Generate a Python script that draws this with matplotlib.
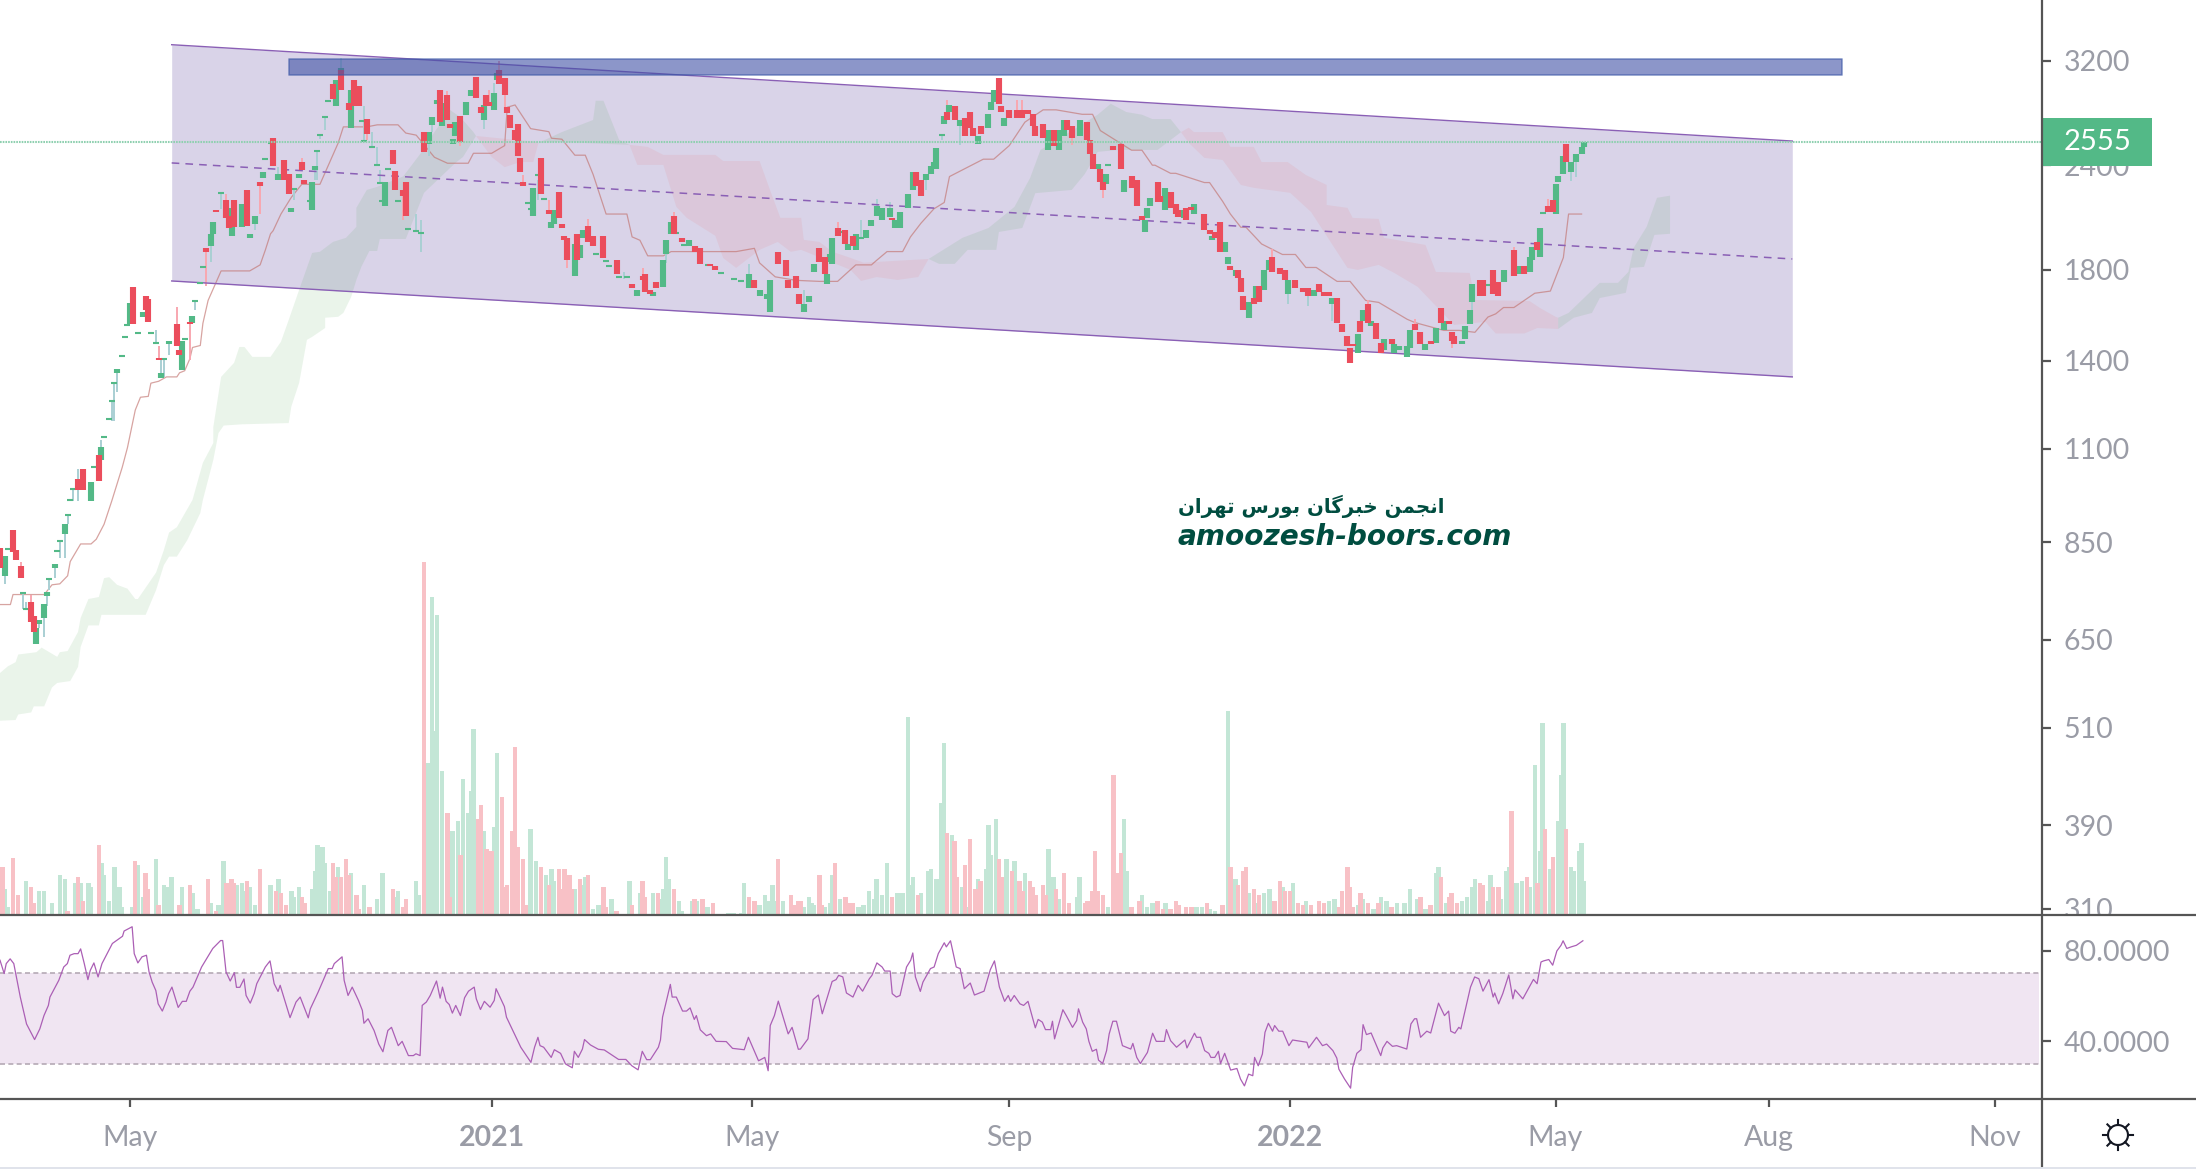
import numpy as np
import matplotlib
matplotlib.use("Agg")
import matplotlib.pyplot as plt
from matplotlib.patches import Rectangle, Circle
from matplotlib.ticker import FixedLocator, FixedFormatter, NullLocator

up_bars = [2,14,15,17,18,21,25,35,39,45,50,55,62,65,70,74,81,82,89,93,96,98,101,107,112,115,120,121,129,131,135,148,165,166,168,170,174,175,179,181,186,190,191,205,212,213,221,223,224,245,251,255,256,258,265,288,292,295,296,
           309,311,313,318,319,320,326,329,333,335,337,339,342,344,346,349,351,356,358,359,360,363,365,369,376,380,381,382,386,403,407,409,415,422,425,432,440,441,442,448,455,459,466,471,472,475,480,483,486,488,495,505,512,522,524,527,532,536,538,541,542,548,552,555,562,563,565,566,578,584,588,589,592,598,599,601,604,606,608,609]
up_open = [775,643,678,690,733,792,869,953,1065,1356,1552,1582,1335,1465,1364,1556,1920,1984,1973,2025,1963,2040,2315,2302,2111,2320,2120,2367,2824,3102,2657,2143,2544,2682,2840,2672,2544,2600,2752,2903,2717,2797,3033,2084,2018,2040,1767,1861,1966,1673,1673,1716,1877,1988,1920,1710,1673,1661,1600,
           1601,1647,1787,1729,1836,1830,1898,1898,1963,2029,2084,2062,2081,2018,2018,2131,2240,2302,2340,2378,2378,2687,2778,2672,2544,2657,2792,2855,2672,2501,2501,2600,2600,2378,2277,2227,1995,2073,2143,2119,2073,2096,1952,1888,1827,1767,1574,1645,1701,1797,1682,1673,1637,1433,1565,1540,1441,1433,1441,1417,1449,1441,1473,1526,1465,1489,1548,1645,1738,1777,1787,1847,1866,2096,2290,2340,2356,2420,2473,2524]
up_close = [819,671,686,717,741,801,894,1002,1106,1371,1643,1600,1356,1481,1481,1583,1984,2051,2131,2155,1984,2084,2356,2340,2131,2345,2290,2393,3033,3132,2952,2290,2629,2742,2871,2845,2581,2702,2855,2952,2834,2924,3090,2252,2051,2119,1931,1925,2006,1701,1691,1847,1952,2053,1952,1777,1701,1685,1748,
            1639,1673,1827,1777,1877,1963,1931,1984,2006,2062,2143,2131,2131,2062,2108,2215,2356,2340,2393,2420,2515,2747,2834,2717,2600,2762,2855,2952,2732,2643,2643,2717,2717,2406,2340,2302,2062,2131,2191,2252,2119,2155,1973,1941,1866,1797,1645,1719,1797,1847,1748,1701,1663,1506,1609,1565,1489,1465,1457,1457,1523,1465,1531,1565,1481,1540,1609,1729,1797,1816,1866,1916,2018,2277,2327,2460,2420,2473,2524,2557]

down_bars = [0,5,6,8,12,13,30,32,38,51,56,57,61,68,69,73,79,83,87,88,90,95,100,105,109,111,116,117,128,131,134,136,138,141,151,152,155,156,163,169,172,173,177,183,185,187,188,192,194,195,196,198,199,200,201,208,211,215,216,217,218,222,226,228,232,237,243,247,248,250,252,259,262,267,269,273,275,290,299,302,303,306,307,
             315,317,322,325,328,343,352,354,364,367,371,373,374,377,384,385,388,391,393,395,397,398,401,405,410,412,418,419,420,423,424,428,431,435,437,439,445,446,450,452,453,456,458,463,465,467,469,473,476,477,478,482,484,489,492,494,498,501,503,507,509,511,514,516,518,519,520,523,526,529,531,535,544,546,550,554,557,558,559,569,570,574,576,582,586,591,595,597,602]
down_open = [836,879,832,797,721,694,1012,1040,1082,1716,1673,1661,1410,1548,1441,1558,1909,2122,2179,2084,2179,2240,2290,2586,2433,2345,2420,2302,3005,3117,2845,3033,2983,2727,2502,2360,2240,2290,2629,2952,2908,2687,2747,3060,2818,2908,2855,3123,3050,2818,2757,2643,2687,2447,2290,2447,2119,2227,2040,1973,1963,1984,2029,1973,1973,1847,1729,1767,1777,1701,1738,2084,1963,1920,1909,1827,1816,1748,1888,1847,1748,1767,1685,
             1909,1866,2018,2006,1973,2073,2356,2302,2778,2824,2732,2778,2657,2672,3050,2824,2792,2792,2792,2792,2762,2672,2687,2643,2717,2672,2702,2571,2473,2378,2290,2529,2544,2327,2302,2084,2290,2203,2227,2155,2119,2131,2139,2096,2006,1995,2051,1816,1797,1757,1673,1663,1719,1866,1806,1797,1748,1710,1710,1729,1691,1691,1663,1548,1498,1449,1465,1565,1637,1556,1473,1489,1548,1515,1481,1618,1565,1515,1498,1748,1748,1797,1738,1898,1816,1941,2143,2179,2544]
down_close = [791,828,810,770,682,664,982,982,1007,1548,1609,1557,1402,1457,1425,1548,1888,2110,2073,2018,2025,2029,2265,2393,2302,2215,2367,2277,2879,2952,2795,2824,2824,2614,2406,2240,2207,2084,2489,2702,2717,2657,2557,2887,2772,2824,2824,3000,2908,2772,2657,2571,2460,2356,2265,2215,2096,2073,2018,1952,1847,1847,1941,1920,1857,1777,1710,1748,1691,1682,1710,1984,1941,1888,1830,1816,1797,1710,1827,1767,1710,1710,1637,
              1836,1777,1973,1931,1920,2062,2265,2203,2717,2717,2600,2657,2600,2614,2840,2778,2732,2732,2732,2762,2672,2600,2586,2529,2643,2586,2571,2473,2378,2290,2240,2501,2378,2252,2143,2062,2167,2167,2131,2096,2081,2062,2119,2006,1984,1963,1888,1797,1757,1691,1609,1637,1645,1787,1777,1748,1710,1691,1673,1691,1673,1673,1556,1515,1457,1394,1457,1515,1556,1489,1433,1465,1523,1465,1465,1556,1548,1481,1465,1673,1673,1682,1673,1767,1777,1898,2108,2108,2420]

# very thin candles that show up as a flat dash
flat_bars = [3,9,10,19,22,23,26,27,28,36,40,42,43,44,47,48,49,53,58,60,63,71,75,77,78,85,102,104,113,119,122,123,125,126,139,140,143,145,146,147,149,153,157,160,162,203,204,207,209,229,233,234,238,241,260,263,272,277,282,285,323,331,362,426,572,593]
flat_price = [835,739,708,768,830,853,917,955,983,1045,1135,1192,1253,1316,1421,1495,1546,1512,1512,1470,1406,1487,1651,1735,1811,2223,2440,2553,2248,2173,2496,2610,2742,2866,2712,2566,2524,2402,2285,2173,2375,2173,2012,2001,1990,2163,2127,2334,2185,1877,1842,1820,1764,1764,1992,1925,1822,1783,1754,1743,1995,1963,2607,2400,1724,2102]

wick_up_bars = [2,9,10,15,17,18,19,21,23,25,26,28,30,39,43,44,45,60,62,63,65,75,81,85,98,104,107,113,121,122,123,125,131,140,143,145,146,160,162,165,166,186,190,207,240,256,288,309,331,337,342,356,362,369,495,503,512,566,604,606]
wick_up_high = [775,739,721,678,690,733,768,792,853,869,917,983,1040,1125,1253,1316,1356,1523,1406,1406,1465,1651,1920,2223,2040,2553,2389,2248,2367,2496,2610,2742,3222,2824,2629,2524,2367,2096,2062,2544,2687,2717,3013,2302,1788,1877,1830,1700,2062,2189,2169,2302,2607,2672,1682,1673,1637,1645,2356,2420]
wick_up_low = [758,708,708,671,654,713,745,770,814,814,894,953,953,1012,1188,1188,1285,1470,1356,1340,1425,1609,1838,2129,2006,2447,2340,2179,2302,2302,2576,2643,3136,2566,2524,2402,2285,2001,1890,2462,2629,2655,2924,2179,1755,1834,1777,1640,1963,2143,2131,2240,2571,2537,1639,1630,1565,1590,2295,2322]
wick_down_bars = [8,12,61,68,73,79,87,100,116,141,155,172,177,188,192,194,201,211,218,226,247,259,322,364,391,393,412,424,489,526,544,558,582,595]
wick_down_high = [805,735,1457,1624,1553,1888,2219,2265,2447,2614,2207,2940,2557,2952,3194,2908,2334,2179,1847,2071,1806,2108,2051,2871,2871,2871,2586,2240,1907,1654,1572,1481,1916,2189]
wick_down_low = [797,721,1406,1548,1402,1723,2179,2096,2420,2571,2064,2717,2531,2855,3123,2813,2290,2119,1806,2029,1767,2084,2018,2778,2792,2792,2537,2195,1866,1637,1548,1451,1898,2143]

# base line of the Ichimoku set (step like)
kijun_bars = [0,4,5,17,20,23,26,27,31,35,37,40,43,47,49,52,54,57,58,61,64,68,69,71,73,74,77,78,80,85,96,100,102,104,105,108,112,116,123,130,132,141,145,153,156,160,167,172,180,182,189,194,195,198,204,211,212,216,221,225,228,233,241,243,246,249,255,258,283,290,292,298,306,315,322,329,335,337,341,347,350,354,359,363,365,378,382,388,394,401,406,416,420,423,435,439,443,444,450,452,463,465,470,473,477,479,485,493,498,502,506,514,519,525,530,541,544,555,561,567,572,575,578,582,590,596,601,603,608]
kijun_price = [716,716,736,736,756,758,775,806,846,846,857,893,953,1045,1103,1223,1267,1270,1317,1324,1340,1340,1355,1363,1409,1453,1461,1553,1654,1794,1794,1824,1900,1987,2004,2098,2197,2277,2277,2551,2667,2667,2682,2682,2622,2607,2453,2413,2413,2480,2480,2533,2815,2833,2654,2632,2585,2578,2467,2467,2340,2098,2098,1970,1952,1870,1870,1892,1892,1909,1834,1765,1748,1743,1743,1824,1824,1847,1892,1892,1970,2045,2128,2166,2326,2440,2440,2533,2702,2795,2795,2761,2761,2640,2501,2501,2400,2400,2347,2347,2288,2288,2173,2098,2023,2023,1932,1877,1877,1811,1811,1743,1743,1654,1645,1570,1556,1523,1523,1515,1580,1594,1622,1622,1687,1697,1861,2098,2098]

cloud_up_1_x = [0,3,6,7,14,16,22,23,26,30,31,34,38,40,42,45,49,52,53,60,63,65,68,74,78,82,82,85,90,92,94,97,104,108,111,115,120,123,128,133,137,137,141,145,155,162,167,173,177,182,183]
cloud_up_1_y = [593,604,611,624,628,636,620,628,630,664,690,727,731,770,772,756,748,727,727,782,832,873,886,955,1058,1117,1167,1340,1393,1455,1455,1416,1416,1476,1568,1703,1885,1891,1943,1965,2025,2134,2242,2261,2327,2486,2629,2794,2739,2629,2601]
cloud_lo_1_x = [0,6,7,12,13,17,20,22,27,30,31,34,38,39,56,60,63,65,68,72,77,78,82,84,86,93,111,112,115,118,120,125,125,130,132,135,137,139,142,145,146,156,163,175,178,183]
cloud_lo_1_y = [520,521,529,532,541,541,570,577,580,603,637,676,676,696,696,745,798,817,817,855,921,955,1066,1148,1172,1176,1180,1235,1318,1484,1496,1533,1577,1581,1598,1670,1750,1817,1895,1895,1959,1959,2224,2414,2455,2601]
red_up_1_x = [183,206]
red_up_1_y = [2601,2559]
red_lo_1_x = [183,189,194,200,205,207]
red_lo_1_y = [2601,2455,2387,2421,2421,2552]
cloud_up_2_x = [207,216,228,229,232,238,242]
cloud_up_2_y = [2552,2629,2718,2866,2866,2573,2538]
cloud_lo_2_x = [207,215,242]
cloud_lo_2_y = [2552,2559,2538]
red_up_2_x = [242,249,255,275,278,292,296,300,308,309,315,320,327,332,357]
red_up_2_y = [2538,2524,2469,2469,2428,2428,2242,2076,2076,1954,1943,1891,1859,1835,1854]
red_lo_2_x = [242,245,255,260,264,275,278,283,292,299,304,308,327,331,337,345,353,357]
red_lo_2_y = [2538,2402,2402,2140,2076,1976,1859,1809,1901,1943,1891,1901,1799,1745,1764,1750,1764,1854]
cloud_up_3_x = [357,370,380,390,396,400,422,427,433,439,443,450,454]
cloud_up_3_y = [1854,1965,2019,2140,2317,2503,2758,2842,2778,2758,2725,2725,2629]
cloud_lo_3_x = [357,361,367,372,383,384,393,398,412,417,422,430,445,454]
cloud_lo_3_y = [1854,1829,1829,1901,1901,1997,2019,2222,2242,2342,2490,2503,2503,2629]
red_up_3_x = [454,457,459,470,473,482,485,495,502,510,510,518,520,530,532,548,552,565,567,588,592,598,599]
red_up_3_y = [2629,2661,2629,2629,2524,2524,2421,2421,2336,2273,2151,2134,2076,2070,1965,1927,1789,1784,1656,1651,1620,1581,1577]
red_lo_3_x = [454,457,463,470,477,482,496,504,511,518,522,530,536,545,552,559,571,575,586,591,599]
red_lo_3_y = [2629,2552,2449,2435,2273,2255,2224,2110,1954,1809,1799,1824,1784,1717,1629,1546,1559,1510,1510,1533,1529]
cloud_up_4_x = [599,603,611,615,622,626,628,633,637,642]
cloud_up_4_y = [1577,1598,1689,1736,1736,1789,1911,2025,2194,2207]
cloud_lo_4_x = [599,605,612,615,625,627,632,636,642]
cloud_lo_4_y = [1529,1577,1598,1665,1689,1809,1814,1981,1987]

# channel and zone drawn on the chart
channel_x = [66,689]
channel_top = [3344,2565]
channel_mid = [2415,1854]
channel_bot = [1745,1340]
zone_x = [111,708]
zone_y = [3077,3216]
last_price = 2555

vol_up_bars = [2,3,10,15,17,20,23,25,29,31,34,35,39,40,42,44,46,47,51,53,55,60,63,64,65,66,70,74,76,81,84,86,91,93,94,96,98,104,106,107,112,113,115,120,121,122,124,125,127,130,135,140,145,147,152,153,160,161,164,165,166,167,168,170,174,176,178,180,181,182,186,190,191,204,206,210,212,213,221,224,225,228,230,235,242,246,251,254,255,256,257,261,262,266,268,272,280,282,285,286,292,294,295,297,298,301,
               309,311,312,313,317,319,320,323,330,332,334,336,337,339,341,345,347,349,350,351,354,357,358,360,362,363,366,370,372,376,379,380,381,383,387,390,394,403,405,407,414,415,426,432,433,439,441,443,448,460,462,465,467,472,475,480,483,486,488,493,497,502,511,513,522,524,528,531,533,537,540,542,545,548,552,553,556,562,564,566,567,572,573,577,579,580,583,585,588,590,592,593,596,599,600,601,604,605,607,608,609]
vol_up = [26,8,34,24,24,12,40,36,32,32,32,28,52,40,14,48,28,8,8,50,18,56,30,28,8,38,28,22,6,12,10,54,30,32,24,28,10,30,10,36,24,18,28,26,44,70,68,52,24,48,42,30,16,42,18,24,34,20,152,152,318,184,300,144,84,94,136,102,124,186,84,88,162,86,54,40,46,34,26,30,38,6,10,16,34,22,22,16,26,58,36,14,4,14,14,8,2,2,2,32,10,20,14,30,14,14,
          8,18,12,10,8,12,40,16,8,10,24,16,36,20,52,22,22,198,30,38,22,44,46,36,112,172,80,28,8,36,46,90,60,96,56,54,42,66,38,16,18,38,8,96,44,20,8,12,12,8,8,6,4,204,36,22,12,22,26,28,32,14,14,16,10,16,6,18,14,12,12,26,16,6,42,48,12,14,18,28,36,14,40,16,44,48,32,34,28,150,64,192,46,94,140,192,48,44,64,72,34]
vol_down_bars = [1,5,7,12,13,26,30,32,38,52,56,57,61,69,73,80,83,87,89,90,95,100,106,108,110,116,117,128,129,131,133,134,137,138,142,151,155,156,163,172,173,177,184,185,187,189,193,194,195,197,198,199,201,202,208,211,215,216,217,219,220,223,226,232,233,237,243,247,248,253,259,267,270,274,288,290,299,304,305,307,
                 308,315,316,321,325,327,328,343,353,364,367,368,371,373,375,377,384,385,389,392,393,396,397,398,401,402,406,409,411,417,418,420,421,422,424,428,430,431,435,438,445,447,450,452,453,456,458,464,470,473,476,478,479,482,484,490,492,494,496,499,501,504,507,509,515,516,518,519,520,523,526,530,535,546,550,554,557,558,560,569,570,574,576,581,587,591,594,597,602]
vol_down = [48,57,20,28,12,4,38,14,70,54,42,26,10,10,30,36,4,32,36,32,34,46,24,22,10,18,12,52,38,38,56,40,20,6,8,26,8,16,353,102,18,60,96,110,66,64,118,28,30,84,168,68,56,10,48,30,46,26,46,40,26,36,40,28,8,4,10,34,18,22,26,16,16,12,18,14,56,20,10,14,
            14,40,10,52,18,12,12,18,20,82,74,38,50,76,26,34,56,38,44,34,24,34,28,20,30,20,26,42,12,12,14,24,64,24,20,140,42,62,8,14,14,6,6,14,10,8,8,12,10,48,30,44,48,26,20,14,34,24,24,12,10,10,14,12,8,24,48,28,8,22,12,12,8,18,10,38,18,22,12,32,30,28,28,104,38,32,86,58,86]

rsi_bars = [0,1.6,2.4,3.9,5.3,7.8,10.2,13.3,15.3,16.9,18.6,19.2,22.6,24.5,25.9,26.9,28.5,30,31,32.4,33.8,34.7,36.1,37.7,39.2,43.2,47.1,47.7,50.8,51.6,53,54.6,56.3,57.3,58.5,59.9,60.8,62.4,63.8,64.8,66.1,68.5,70.1,71.6,73,74.2,77.5,81.8,84.8,85.6,86.9,88.5,90.1,90.9,92.2,93.8,94.6,96.2,97.7,98.7,102,103.8,105.4,106.9,107.7,109.9,111.5,113.8,115.4,118.5,119.3,122.3,126.2,127.7,128.5,131.5,132.3,133.8,135.4,137.8,139.3,139.9,141.5,143.8,145.6,147.2,149.1,150.5,153.1,154.6,157,158.9,159.9,161.5,162.3,163.9,165.4,167.8,169.2,170.1,171.5,172.7,173.9,175.2,177,178.6,180.1,182.3,183.1,184.7,186.2,188.4,190,190.7,193.9,194.7,200.2,204.1,205.5,206.8,207.6,209,211.9,213.1,215.5,217.4,220,220.8,222.3,223.9,224.7,227,230,232.3,237.8,240.6,242.9,245.3,246.9,248.6,250,253.1,253.9,254.7,257.7,258.4,260,262.4,263.9,265.3,266.9,267.7,269.2,271.6,273.2,275.3,279.2,281.6,286.1,287.7,291.6,294,295.3,296.1,297.7,299.2,303,304.5,306.9,
            307.7,310.6,312.6,314.6,316.1,319.9,321.4,322.4,324,325.4,327.9,329.9,331.6,334.2,335.2,337.1,339.1,340.1,342.2,343,344.6,346,348.5,350.1,350.9,351.9,353.8,354.8,357.7,359.1,360.7,363,363.8,365.4,367.6,369.1,370.7,373,374.6,378.3,380.7,382.3,384.2,386.2,387.6,388.5,389.9,392.1,393.5,395.2,398,399.1,400.7,401.9,403.9,404.6,405.4,408.6,409.9,412.3,413.9,414.6,416.2,417.6,418.6,419.9,421.5,422.3,423.9,425.4,426.4,427.8,429.2,431.5,434.7,435.5,437,438.4,441.1,443.1,444.5,447.6,448.4,450,452.3,455.5,456.3,459.2,460,461.5,463.1,464.7,465.5,467,468.4,469.2,470.8,473.1,475.5,476.9,478.4,480,481.6,482.3,483.7,485.3,486.3,487.6,489.2,490,491.6,493.1,495.5,496.9,502.4,503.1,506.1,508.4,510,512.4,513.9,514.7,516.9,519.2,520,521.6,523.2,524,525.3,527.1,530.8,531.6,533.2,535.3,536.9,540.8,542.4,543.8,544.6,546.1,548.5,550,553,555.3,556.9,557.7,559.3,560.8,561.6,565.3,566.9,568.5,570.1,572.4,574,574.6,576.1,577.7,580,581.6,582.4,585.4,589.5,590.9,592.4,593.4,595.4,596.9,598.5,600.1,600.9,602.3,604,606,608.5]
rsi_vals = [75.8,69.9,74.3,76.4,74.3,59.5,47.6,40.7,45.4,51.3,55.8,59.5,66.9,72.8,74.3,78,78.7,78.7,80.8,74.3,67.2,71.3,74.6,68.4,74.3,83.2,86.4,88.7,90.6,78.7,74.6,77.3,78,70.6,66.1,62.4,56.5,53.3,57.3,61,63.9,54.9,57.6,57.6,62.1,63.9,72.8,81,84.5,84.5,70.6,66.6,70.3,63.8,63.8,67.5,60.2,56.8,61,65.4,72.8,75.5,65.4,62,64.7,56.5,50.4,57.3,59.5,50.3,54.3,61.7,72.1,72.1,74.3,77.3,66.9,60.2,63.9,58,53.6,47.9,49.9,44.7,38.7,35.3,44.7,46.1,38,39.9,33.6,33.6,34.4,33.6,55.8,57.3,60.2,66.6,59,63.9,57.6,56.2,52.4,55.8,51.3,59.2,62.1,63.9,58.7,54,57.6,55,58,63.2,55.3,50.6,37.3,30.6,37.3,41.7,38,37.3,32.8,36.2,34.6,29.9,28.2,35.5,32.8,36.5,40.7,38.3,36.4,36.1,31.9,31.9,29.1,27.3,35.5,31.8,31.8,37.3,40.5,50.6,65.1,59.5,59.5,53.3,53.3,54.7,49.6,51.3,45,42.4,43.2,39.9,39.8,36.8,36.2,41.7,31.3,32.8,26.9,46.9,51.3,57.7,43.2,46.1,36.4,
            36.5,41,58.4,60.4,52.1,66.4,67.2,69.1,68.4,61.3,59.5,64.7,62.1,67.6,69.1,74.6,72.8,71,71,61,59.5,60.2,72.8,75.8,79,68.4,62,66.1,72.1,72.8,78.7,83.5,81.7,84.4,72.8,72.1,63.2,65.7,60.4,62.1,71.6,75.5,63.9,57.6,60.2,57.6,60.2,56.5,55.8,57.6,45.9,49.6,48.4,45.1,45.1,48.8,41,53.9,51.3,46.1,49.1,54.3,48.4,45.4,39.9,35.5,36.4,31.6,30.1,35.8,43.2,48.8,48.8,38,36.5,39,32.8,30.1,35,43.5,39.9,39.9,45.1,40.2,37.3,40.5,37,43.5,41.7,41.7,35.8,34.6,32.8,32.8,35.5,30.1,34.6,27.2,27.9,23.2,20.2,25.4,24.7,32.8,29.1,34.3,43.9,47.9,44.4,46.9,44.4,44.4,38,40.5,39.5,37,41.7,38,38.7,35.8,32.5,27.6,23.2,19.2,28.4,34.6,36.2,47.3,42.9,43.6,33.6,37,39.9,37.7,38,36.5,47.6,49.9,49.9,41.7,44.4,43.6,56.8,51.3,53.3,44.4,43.5,46.1,45.4,63.9,68.4,67.6,62.1,67.2,59.5,61.3,56.5,61,69.3,58.7,62.7,58.7,67.3,65.4,75,75.5,76.1,73.6,79.9,82.4,84.4,81,81.7,82.4,84.4]

price_ticks = [3200,2400,1800,1400,1100,850,650,510,390,310]
rsi_ticks = [80,40]
date_ticks = [50,189,289,388,496,598,680,767]
date_labels = ["May","2021","May","Sep","2022","May","Aug","Nov"]
persian_text = "\uFEE5\uFE8D\uFEAE\uFEEC\uFE97 \uFEB1\uFEAD\uFEEE\uFE91 \uFEE5\uFE8E\uFB94\uFEAE\uFE92\uFEA7 \uFEE6\uFEE4\uFEA0\uFEE7\uFE8D"

# === Style ===
W, H = 2196, 1169
PANE_RIGHT, PANE_BOTTOM, RSI_BOTTOM = 2042, 915, 1099
TEXT = "#9a9ca6"
LINE = "#555555"
GREEN = "#53b987"
RED = "#eb4d5c"
plt.rcParams["font.family"] = ["Lato", "DejaVu Sans"]

fig = plt.figure(figsize=(W / 100, H / 100), dpi=100, facecolor="white")

def frac(x0, y_top, x1, y_bottom):
    return [x0 / W, 1 - y_bottom / H, (x1 - x0) / W, (y_bottom - y_top) / H]

ax = fig.add_axes(frac(0, 0, PANE_RIGHT, PANE_BOTTOM), zorder=0)
ax.set_yscale("log")
ax.set_xlim(0, 785)
ax.set_ylim(304.6, 3782)

# channel
ax.fill_between(channel_x, channel_bot, channel_top, color="#d9d3e8", lw=0, zorder=1)
ax.plot(channel_x, channel_top, color="#8a5fb5", lw=1.0, zorder=5)
ax.plot(channel_x, channel_bot, color="#8a5fb5", lw=1.0, zorder=5)
ax.plot(channel_x, channel_mid, color="#8a5fb5", lw=1.1, ls=(0, (5, 4)), zorder=5)

# cloud
green_cloud = [(cloud_up_1_x, cloud_up_1_y, cloud_lo_1_x, cloud_lo_1_y),
               (cloud_up_2_x, cloud_up_2_y, cloud_lo_2_x, cloud_lo_2_y),
               (cloud_up_3_x, cloud_up_3_y, cloud_lo_3_x, cloud_lo_3_y),
               (cloud_up_4_x, cloud_up_4_y, cloud_lo_4_x, cloud_lo_4_y)]
red_cloud = [(red_up_1_x, red_up_1_y, red_lo_1_x, red_lo_1_y),
             (red_up_2_x, red_up_2_y, red_lo_2_x, red_lo_2_y),
             (red_up_3_x, red_up_3_y, red_lo_3_x, red_lo_3_y)]
for ux, uy, lx, ly in green_cloud:
    ax.fill(ux + lx[::-1], uy + ly[::-1], color="#43a047", alpha=0.11, lw=0, zorder=2)
for ux, uy, lx, ly in red_cloud:
    ax.fill(ux + lx[::-1], uy + ly[::-1], color="#f44336", alpha=0.08, lw=0, zorder=2)

ax.plot(kijun_bars, kijun_price, color="#c2736f", lw=0.9, alpha=0.65, zorder=3)

# candles
ax.vlines(wick_up_bars, wick_up_low, wick_up_high, color="#a9cfd3", lw=1.4, zorder=4)
ax.vlines(wick_down_bars, wick_down_low, wick_down_high, color="#f8a7b0", lw=1.4, zorder=4)
ax.vlines(up_bars, up_open, up_close, color=GREEN, lw=4.4, zorder=6)
ax.plot(flat_bars, flat_price, ls="none", marker="_", ms=4.6, mew=1.5, color=GREEN, zorder=6)
ax.vlines(down_bars, down_close, down_open, color=RED, lw=4.4, zorder=7)

# resistance zone and last price line
ax.fill_between(zone_x, zone_y[0], zone_y[1], facecolor="#3f51a5", alpha=0.6, edgecolor="#3f5aa8", lw=1.2, zorder=8)
ax.axhline(last_price, color="#8fd0b0", lw=1.5, ls=(0, (0.8, 0.5)), zorder=8)

# volume overlay, linear scale on its own hidden axis
vol_ax = ax.twinx()
vol_ax.set_zorder(-1)
ax.set_zorder(0)
vol_ax.set_ylim(0, 915)
vol_ax.bar(vol_up_bars, vol_up, width=1.7, color="#c3e6d6", lw=0)
vol_ax.bar(vol_down_bars, vol_down, width=1.7, color="#f8c1c6", lw=0)
vol_ax.yaxis.set_major_locator(NullLocator())
vol_ax.set_xlim(0, 785)
for s in vol_ax.spines.values():
    s.set_visible(False)
ax.patch.set_visible(False)

ax.xaxis.set_major_locator(NullLocator())
ax.xaxis.set_minor_locator(NullLocator())
ax.yaxis.tick_right()
ax.yaxis.set_major_locator(FixedLocator(price_ticks))
ax.yaxis.set_major_formatter(FixedFormatter([str(t) for t in price_ticks]))
ax.yaxis.set_minor_locator(NullLocator())
ax.tick_params(axis="y", length=6.5, width=1.6, color=LINE, labelcolor=TEXT, labelsize=20.5, pad=9)
for s in ax.spines.values():
    s.set_visible(False)

# last price tag
ax.add_patch(Rectangle((1.0, 2396), 110 / PANE_RIGHT, 2733 - 2396, transform=ax.get_yaxis_transform(),
                       facecolor=GREEN, edgecolor="none", clip_on=False, zorder=20))
ax.text(1 + 22 / PANE_RIGHT, last_price, str(last_price), transform=ax.get_yaxis_transform(), color="white",
        fontsize=21, va="center", ha="left", clip_on=False, zorder=21)

# watermark
ax.text(1178 / PANE_RIGHT, 1 - 506 / PANE_BOTTOM, persian_text, transform=ax.transAxes, family=["DejaVu Sans"],
        fontsize=14.2, fontweight="bold", color="#004d40", va="center", ha="left", zorder=21)
ax.text(1178 / PANE_RIGHT, 1 - 537 / PANE_BOTTOM, "amoozesh-boors.com", transform=ax.transAxes, family=["DejaVu Sans"],
        fontsize=20.2, fontweight="bold", style="italic", color="#004d40", va="center", ha="left", zorder=21)

# white strip hides the part of the 310 label below the pane
fig.add_artist(Rectangle((PANE_RIGHT / W, 1 - RSI_BOTTOM / H), (W - PANE_RIGHT) / W, (RSI_BOTTOM - PANE_BOTTOM) / H,
                         transform=fig.transFigure, facecolor="white", edgecolor="none", zorder=1))

# === RSI pane ===
rsi = fig.add_axes(frac(0, PANE_BOTTOM, PANE_RIGHT, RSI_BOTTOM), zorder=2)
rsi.set_xlim(0, 785)
rsi.set_ylim(14.4, 95.8)
rsi.fill_between([0, 784], 30, 70, color="#f0e5f2", lw=0)
rsi.plot([0, 784], [70, 70], color="#b5a9b5", lw=1.2, ls=(0, (3, 2)))
rsi.plot([0, 784], [30, 30], color="#b5a9b5", lw=1.2, ls=(0, (3, 2)))
rsi.plot(rsi_bars, rsi_vals, color="#ab5fb5", lw=0.9)
rsi.yaxis.tick_right()
rsi.set_yticks(rsi_ticks)
rsi.set_yticklabels([f"{t:.4f}" for t in rsi_ticks])
rsi.tick_params(axis="y", length=6.5, width=1.6, color=LINE, labelcolor=TEXT, labelsize=20.5, pad=9)
rsi.set_xticks(date_ticks)
rsi.set_xticklabels(date_labels)
rsi.tick_params(axis="x", length=5.5, width=1.6, color=LINE, labelcolor=TEXT, labelsize=20.5, pad=13)
for label in rsi.get_xticklabels():
    if label.get_text().isdigit():
        label.set_fontweight("bold")
for s in rsi.spines.values():
    s.set_visible(False)

# separators of the panes and the price axis
for y in (PANE_BOTTOM - 0.5, RSI_BOTTOM):
    fig.add_artist(plt.Line2D([0, 1], [1 - y / H] * 2, color=LINE, lw=1.6, zorder=5))
fig.add_artist(plt.Line2D([PANE_RIGHT / W] * 2, [0.002, 1], color=LINE, lw=1.6, zorder=5))
fig.add_artist(plt.Line2D([0, 1], [0.0006, 0.0006], color="#e0e3eb", lw=1.4, zorder=5))

# settings icon
icon = fig.add_axes(frac(2098, 1115, 2138, 1155), zorder=3)
icon.set_xlim(-20, 20)
icon.set_ylim(-20, 20)
icon.axis("off")
icon.add_patch(Circle((0, 0), 10, fill=False, ec="#131722", lw=1.5))
for a in np.deg2rad(np.arange(0, 360, 45)):
    icon.plot([10 * np.cos(a), 15 * np.cos(a)], [10 * np.sin(a), 15 * np.sin(a)], color="#131722", lw=1.5)

fig.savefig("out.png", dpi=100)
